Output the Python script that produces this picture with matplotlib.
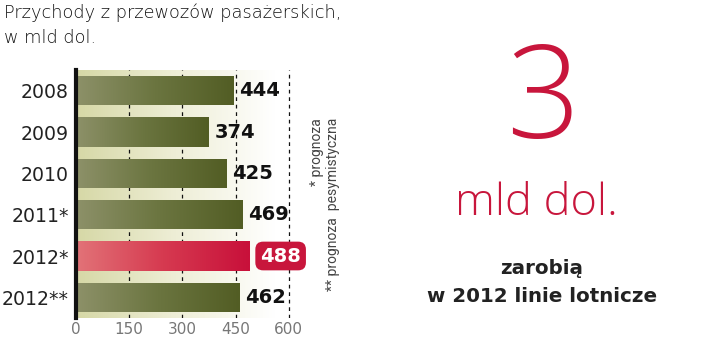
import numpy as np
import matplotlib
matplotlib.use("Agg")
import matplotlib.pyplot as plt
from matplotlib.colors import LinearSegmentedColormap

categories = ["2008", "2009", "2010", "2011*", "2012*", "2012**"]
values = [444, 374, 425, 469, 488, 462]
highlight = [False, False, False, False, True, False]
xticks = [0, 150, 300, 450, 600]

title = "Przychody z przewozów pasażerskich,\nw mld dol."
big_number = "3"
big_unit = "mld dol."
caption = "zarobią\nw 2012 linie lotnicze"
note1 = "* prognoza"
note2 = "** prognoza  pesymistyczna"

RED = "#c8163c"
DARK = "#222222"

fig = plt.figure(figsize=(7.2, 3.42), dpi=100)
W, H = 720, 342
ax = fig.add_axes([76 / W, (H - 318) / H, 227 / W, 248 / H])
xmax = 640

bg_cmap = LinearSegmentedColormap.from_list("bg", ["#d6d8a6", "#eeeed6", "#ffffff"])
grad = np.linspace(0, 1, 256).reshape(1, -1)
ax.imshow(grad, cmap=bg_cmap, aspect="auto", extent=(0, 560, 5.5, -0.5), zorder=0)

for t in xticks[1:]:
    ax.axvline(t, color="#111111", lw=0.9, ls=(0, (3, 3)), zorder=1)

green_cmap = LinearSegmentedColormap.from_list("g", ["#8d9169", "#6b7540", "#525d24"])
red_cmap = LinearSegmentedColormap.from_list("r", ["#e27378", "#d63a50", "#c8103a"])

h = 0.71
ypos = np.arange(len(categories))
bars = ax.barh(ypos, values, height=h, color="none", edgecolor="none", zorder=2)
for b, v, y, hl in zip(bars, values, ypos, highlight):
    im = ax.imshow(grad, cmap=red_cmap if hl else green_cmap, aspect="auto",
                   extent=(0, v, y + h / 2, y - h / 2), zorder=2)
    im.set_clip_path(b)

ax.set_xlim(0, xmax)
ax.set_ylim(5.5, -0.5)

for v, y, hl in zip(values, ypos, highlight):
    if hl:
        ax.annotate(str(v), xy=(v, y), xytext=(8, 0), textcoords="offset points",
                    ha="left", va="center", fontsize=14, fontweight="bold",
                    color="white", family="DejaVu Sans",
                    bbox=dict(boxstyle="round,pad=0.25,rounding_size=0.4",
                              fc=RED, ec="none"), zorder=5)
    else:
        ax.annotate(str(v), xy=(v, y), xytext=(4, 0), textcoords="offset points",
                    ha="left", va="center", fontsize=14, fontweight="bold",
                    color="#111111", family="DejaVu Sans", zorder=5)

for s in ["top", "right", "bottom"]:
    ax.spines[s].set_visible(False)
ax.spines["left"].set_linewidth(3)
ax.spines["left"].set_color("#111111")
ax.spines["left"].set_zorder(6)

ax.set_yticks(ypos)
ax.set_yticklabels(categories, fontsize=13.6, color="#222222")
ax.tick_params(axis="y", length=0, pad=5)
ax.set_xticks(xticks)
ax.set_xticklabels([str(t) for t in xticks], fontsize=11, color="#777777")
ax.tick_params(axis="x", length=0, pad=3)

fig.text(4 / W, 1 - 3 / H, title, ha="left", va="top", fontsize=12.8,
         color="#111111", family="DejaVu Sans", fontweight="light", linespacing=1.55)

fig.text(317 / W, 1 - 118 / H, note1, rotation=90, ha="center", va="top",
         fontsize=10, color="#444444", family="Roboto")
fig.text(333 / W, 1 - 118 / H, note2, rotation=90, ha="center", va="top",
         fontsize=10, color="#444444", family="Roboto")

fig.text(543 / W, 1 - 138 / H, big_number, ha="center", va="baseline", fontsize=93,
         color=RED, family="Open Sans", fontweight="light")
fig.text(536 / W, 1 - 215 / H, big_unit, ha="center", va="baseline", fontsize=32.5,
         color=RED, family="Open Sans", fontweight="light")
fig.text(542 / W, 1 - 282 / H, caption, ha="center", va="center", fontsize=14.3,
         color=DARK, family="DejaVu Sans", fontweight="bold", linespacing=1.6)

fig.savefig("out.png", dpi=100)
